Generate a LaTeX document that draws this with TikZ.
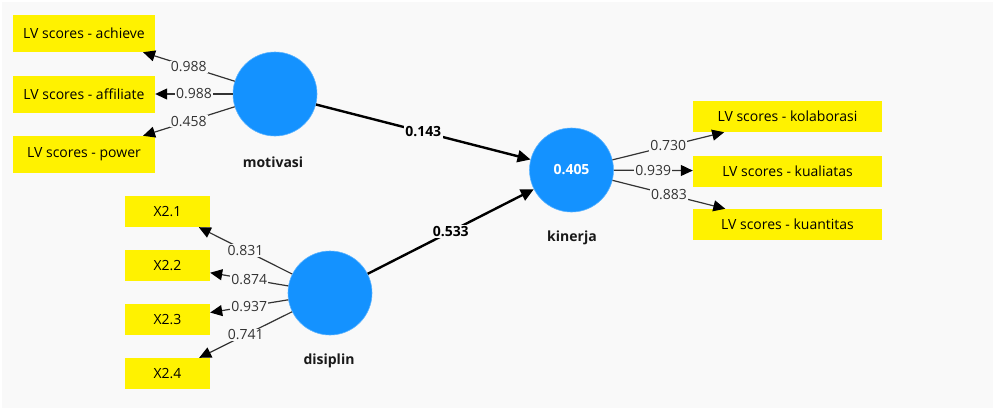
\documentclass[tikz,border=0pt]{standalone}
\usepackage{fontspec}
\setmainfont{Open Sans}
\usetikzlibrary{arrows.meta}
\definecolor{bgc}{RGB}{249,249,249}
\definecolor{lvblue}{RGB}{20,146,255}
\definecolor{lblgray}{RGB}{51,51,51}
\begin{document}
\begin{tikzpicture}[x=1pt,y=-1pt,
  ybox/.style={fill=yellow,draw=none,inner sep=0pt,font=\fontsize{14}{16}\selectfont,text=black},
  lvbox/.style={ybox,minimum width=142pt,minimum height=37pt},
  xbox/.style={ybox,minimum width=85pt,minimum height=31pt},
  rbox/.style={ybox,minimum width=189pt,minimum height=31pt},
  lv/.style={circle,fill=lvblue,draw=lvblue!70!white,line width=0.6pt,minimum size=84pt,inner sep=0pt,text=white,font=\fontsize{14}{16}\selectfont\bfseries},
  cname/.style={font=\fontsize{14}{16}\selectfont\bfseries,text=black!90},
  load/.style={draw=lblgray,line width=1.2pt,-{Triangle[length=12pt,width=11pt,color=black]}},
  path/.style={draw=black,line width=2.4pt,-{Triangle[length=13pt,width=12pt]}},
  lbl/.style={fill=bgc,inner sep=1pt,font=\fontsize{14}{16}\selectfont,text=lblgray},
  plbl/.style={fill=bgc,inner sep=1.5pt,font=\fontsize{14}{16}\selectfont\bfseries,text=black}
]
\useasboundingbox (0,0) rectangle (994,410);
\fill[bgc] (2,2) rectangle (993,408);

% indicator boxes
\node[lvbox] (ach) at (84,33.5) {LV scores - achieve};
\node[lvbox] (aff) at (84,94) {LV scores - affiliate};
\node[lvbox] (pow) at (84,154.5) {LV scores - power};
\node[xbox] (x21) at (167.5,211.5) {X2.1};
\node[xbox] (x22) at (167.5,265.5) {X2.2};
\node[xbox] (x23) at (167.5,319.5) {X2.3};
\node[xbox] (x24) at (167.5,373.5) {X2.4};
\node[rbox] (kol) at (787.5,116.5) {LV scores - kolaborasi};
\node[rbox] (kua) at (787.5,171) {LV scores - kualiatas};
\node[rbox] (kun) at (787.5,224.5) {LV scores - kuantitas};

% latent variables
\node[lv] (mot) at (275,94) {};
\node[lv] (dis) at (330,293) {};
\node[lv] (kin) at (571.5,170) {0.405};
\node[cname] (motn) at (273,162) {motivasi};
\node[cname] (disn) at (329,361) {disiplin};
\node[cname] (kinn) at (572,238) {kinerja};

% loadings
\draw[load] (mot) -- node[lbl]{0.988} (ach);
\draw[load] (mot) -- node[lbl]{0.988} (aff);
\draw[load] (mot) -- node[lbl]{0.458} (pow);
\draw[load] (dis) -- node[lbl]{0.831} (x21);
\draw[load] (dis) -- node[lbl]{0.874} (x22);
\draw[load] (dis) -- node[lbl]{0.937} (x23);
\draw[load] (dis) -- node[lbl]{0.741} (x24);
\draw[load] (kin) -- node[lbl]{0.730} (kol);
\draw[load] (kin) -- node[lbl]{0.939} (kua);
\draw[load] (kin) -- node[lbl]{0.883} (kun);

% paths
\draw[path] (mot) -- node[plbl]{0.143} (kin);
\draw[path] (dis) -- node[plbl]{0.533} (kin);
\end{tikzpicture}
\end{document}
